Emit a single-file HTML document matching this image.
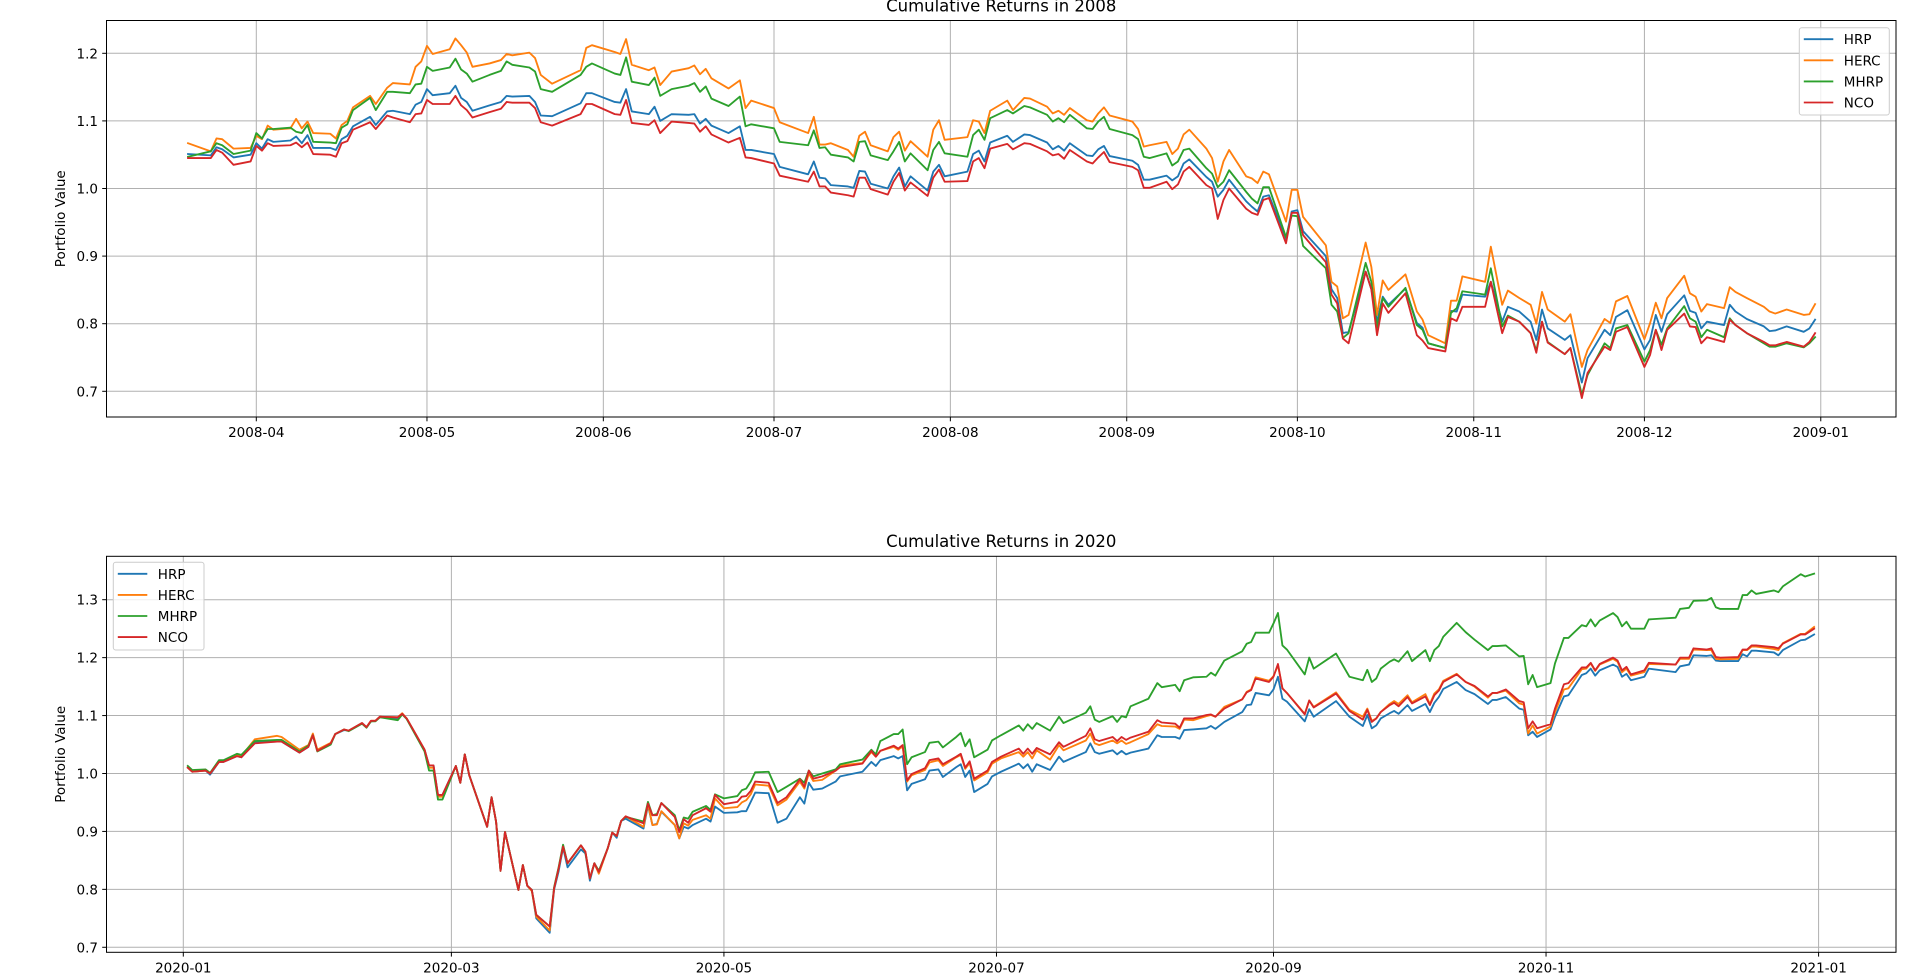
<!DOCTYPE html>
<html><head><meta charset="utf-8"><title>Cumulative Returns</title>
<style>
html,body{margin:0;padding:0;background:#fff;}
svg{display:block;font-family:"DejaVu Sans","Liberation Sans",sans-serif;}
</style></head>
<body>
<svg id="fig" width="1920" height="973" viewBox="0 0 1920 973" xmlns="http://www.w3.org/2000/svg">
<rect x="0" y="0" width="1920" height="973" fill="#fff"/>
<g id="chart1"></g>
<g id="chart2"></g>
</svg>
<script>
// ===== 2008 data (day of year, 2008-01-01 = 0) =====
const days2008 = [79,83,84,85,87,90,91,92,93,94,97,98,99,100,101,104,105,106,107,108,111,112,114,115,118,119,120,121,122,125,126,127,128,129,132,134,135,136,139,140,141,143,148,149,150,154,155,156,157,160,161,162,164,167,168,169,170,171,174,176,177,178,182,183,188,189,190,191,192,195,196,197,198,199,202,203,204,205,206,209,210,211,212,216,217,218,219,220,223,224,226,227,230,231,232,233,234,237,238,239,240,241,245,246,247,248,251,252,253,254,255,258,259,260,261,262,265,266,267,268,269,272,273,274,275,279,280,281,282,283,286,287,288,289,290,293,295,296,297,300,301,302,303,307,308,310,311,313,315,316,317,318,321,322,324,325,328,329,330,332,335,336,337,338,339,342,343,344,345,346,349,350,351,353,356,357,358,360,363,364,365];
const hrp2008 = [1.051,1.049,1.061,1.058,1.046,1.050,1.067,1.059,1.073,1.069,1.071,1.077,1.067,1.079,1.060,1.060,1.057,1.073,1.078,1.092,1.106,1.094,1.114,1.115,1.110,1.124,1.128,1.147,1.138,1.141,1.152,1.134,1.128,1.115,1.123,1.128,1.137,1.136,1.137,1.128,1.108,1.107,1.126,1.141,1.141,1.128,1.127,1.147,1.114,1.110,1.121,1.100,1.110,1.109,1.110,1.096,1.103,1.093,1.082,1.092,1.057,1.057,1.051,1.032,1.021,1.040,1.016,1.015,1.005,1.003,1.001,1.026,1.025,1.007,1.000,1.018,1.031,1.003,1.018,0.997,1.025,1.035,1.018,1.025,1.051,1.056,1.040,1.068,1.078,1.069,1.080,1.079,1.068,1.058,1.063,1.056,1.067,1.049,1.048,1.058,1.063,1.048,1.041,1.035,1.013,1.013,1.019,1.012,1.018,1.037,1.043,1.017,1.010,0.988,0.998,1.013,0.981,0.973,0.966,0.988,0.990,0.926,0.966,0.968,0.937,0.900,0.851,0.838,0.786,0.788,0.877,0.851,0.803,0.840,0.828,0.852,0.801,0.794,0.771,0.764,0.819,0.818,0.843,0.840,0.862,0.803,0.825,0.818,0.803,0.776,0.821,0.793,0.776,0.783,0.713,0.749,0.791,0.783,0.810,0.820,0.762,0.776,0.813,0.788,0.814,0.842,0.819,0.816,0.793,0.803,0.798,0.828,0.818,0.807,0.796,0.789,0.790,0.796,0.788,0.793,0.806];
const herc2008 = [1.067,1.055,1.074,1.073,1.059,1.060,1.078,1.073,1.093,1.087,1.089,1.103,1.089,1.099,1.082,1.081,1.074,1.094,1.100,1.120,1.137,1.125,1.149,1.156,1.154,1.180,1.188,1.211,1.199,1.206,1.222,1.212,1.201,1.180,1.185,1.190,1.199,1.197,1.201,1.193,1.168,1.155,1.175,1.208,1.212,1.202,1.199,1.221,1.183,1.175,1.179,1.153,1.173,1.178,1.182,1.169,1.177,1.163,1.148,1.160,1.119,1.130,1.119,1.098,1.082,1.106,1.065,1.065,1.067,1.057,1.047,1.078,1.084,1.064,1.055,1.076,1.084,1.056,1.070,1.047,1.087,1.101,1.072,1.076,1.101,1.099,1.082,1.115,1.130,1.116,1.134,1.133,1.121,1.111,1.115,1.109,1.119,1.101,1.099,1.111,1.120,1.108,1.099,1.088,1.062,1.064,1.069,1.051,1.059,1.080,1.087,1.059,1.045,1.010,1.040,1.057,1.018,1.015,1.008,1.025,1.021,0.951,0.998,0.998,0.958,0.916,0.862,0.855,0.808,0.813,0.920,0.884,0.813,0.864,0.850,0.873,0.818,0.806,0.783,0.771,0.834,0.834,0.870,0.862,0.914,0.828,0.849,0.838,0.828,0.800,0.847,0.821,0.803,0.814,0.736,0.761,0.807,0.801,0.833,0.841,0.777,0.801,0.831,0.808,0.838,0.871,0.845,0.840,0.818,0.829,0.823,0.854,0.847,0.838,0.825,0.818,0.815,0.821,0.813,0.814,0.829];
const mhrp2008 = [1.047,1.055,1.067,1.064,1.051,1.056,1.082,1.074,1.088,1.088,1.090,1.084,1.082,1.094,1.069,1.068,1.067,1.090,1.095,1.116,1.134,1.116,1.143,1.143,1.141,1.154,1.155,1.180,1.174,1.179,1.192,1.176,1.170,1.158,1.168,1.174,1.188,1.183,1.179,1.173,1.147,1.143,1.168,1.180,1.185,1.170,1.168,1.194,1.158,1.153,1.164,1.137,1.147,1.152,1.156,1.143,1.151,1.133,1.122,1.136,1.092,1.095,1.089,1.069,1.064,1.086,1.060,1.061,1.050,1.046,1.040,1.069,1.070,1.049,1.042,1.055,1.069,1.040,1.052,1.027,1.057,1.069,1.052,1.047,1.079,1.087,1.072,1.104,1.116,1.111,1.122,1.120,1.109,1.099,1.104,1.098,1.109,1.089,1.088,1.099,1.106,1.088,1.079,1.073,1.047,1.045,1.052,1.034,1.040,1.057,1.059,1.030,1.022,1.002,1.010,1.027,0.995,0.985,0.978,1.002,1.002,0.928,0.960,0.959,0.915,0.882,0.828,0.818,0.779,0.786,0.890,0.862,0.794,0.838,0.825,0.853,0.798,0.791,0.771,0.764,0.816,0.823,0.848,0.843,0.882,0.796,0.812,0.803,0.786,0.760,0.803,0.773,0.755,0.764,0.695,0.724,0.771,0.764,0.793,0.798,0.744,0.761,0.791,0.769,0.793,0.826,0.808,0.803,0.780,0.791,0.780,0.808,0.798,0.786,0.771,0.766,0.766,0.771,0.765,0.771,0.780];
const nco2008 = [1.045,1.045,1.057,1.053,1.035,1.040,1.063,1.056,1.067,1.063,1.064,1.068,1.061,1.068,1.051,1.050,1.047,1.067,1.070,1.087,1.098,1.088,1.108,1.105,1.098,1.110,1.111,1.131,1.125,1.125,1.137,1.123,1.116,1.105,1.113,1.118,1.128,1.127,1.127,1.119,1.098,1.093,1.110,1.125,1.125,1.110,1.109,1.131,1.097,1.094,1.101,1.082,1.099,1.097,1.096,1.084,1.092,1.080,1.068,1.075,1.046,1.045,1.037,1.019,1.010,1.025,1.003,1.003,0.994,0.990,0.988,1.016,1.016,0.999,0.991,1.010,1.023,0.997,1.009,0.989,1.016,1.028,1.010,1.011,1.040,1.045,1.030,1.059,1.066,1.058,1.067,1.066,1.055,1.049,1.051,1.044,1.057,1.040,1.037,1.046,1.054,1.039,1.032,1.027,1.001,1.001,1.010,0.999,1.006,1.025,1.032,1.005,1.000,0.955,0.983,1.000,0.970,0.964,0.961,0.983,0.986,0.919,0.964,0.964,0.931,0.891,0.843,0.830,0.778,0.771,0.877,0.851,0.783,0.830,0.816,0.845,0.783,0.775,0.764,0.759,0.808,0.804,0.825,0.825,0.862,0.786,0.810,0.803,0.786,0.757,0.803,0.772,0.755,0.764,0.690,0.727,0.766,0.761,0.788,0.795,0.736,0.754,0.791,0.761,0.791,0.815,0.796,0.795,0.771,0.780,0.773,0.806,0.798,0.786,0.773,0.768,0.768,0.773,0.766,0.773,0.786];
const xTickDays2008 = [91,121,152,182,213,244,274,305,335,366];
const xTickLabels2008 = ["2008-04","2008-05","2008-06","2008-07","2008-08","2008-09","2008-10","2008-11","2008-12","2009-01"];
const yTicks2008 = [0.7,0.8,0.9,1.0,1.1,1.2];

// ===== 2020 data (day of year, 2020-01-01 = 0) =====
const days2020 = [1,2,5,6,8,9,12,13,16,21,22,26,28,29,30,33,34,36,37,40,41,42,43,44,48,49,50,54,55,56,57,58,61,62,63,64,68,69,70,71,72,75,76,77,78,79,82,83,84,85,86,89,90,91,92,93,95,96,97,98,99,103,104,105,106,107,110,111,112,113,114,117,118,119,121,124,125,126,127,128,131,133,135,138,139,140,141,143,146,147,152,154,155,156,159,160,161,162,163,166,167,169,170,173,174,175,176,177,180,181,183,187,188,189,190,191,194,196,197,202,203,204,205,208,209,210,211,212,216,218,219,222,223,224,226,229,230,231,233,237,238,239,240,243,244,245,246,247,251,252,253,258,261,264,265,266,267,268,270,271,272,274,275,278,279,280,281,282,285,287,289,292,293,294,296,299,300,301,302,303,306,307,309,310,313,314,315,316,317,320,321,322,323,324,327,328,334,335,337,338,341,342,343,344,348,349,350,351,352,356,357,358,362,363,365];
const hrp2020 = [1.010,1.003,1.005,0.998,1.020,1.020,1.030,1.028,1.054,1.055,1.055,1.036,1.046,1.066,1.039,1.052,1.068,1.075,1.074,1.087,1.080,1.090,1.091,1.098,1.095,1.103,1.095,1.041,1.014,1.014,0.963,0.963,1.013,0.984,1.033,0.997,0.908,0.959,0.917,0.832,0.899,0.799,0.842,0.806,0.799,0.750,0.725,0.800,0.831,0.872,0.838,0.869,0.862,0.815,0.845,0.828,0.871,0.898,0.889,0.918,0.922,0.905,0.945,0.911,0.913,0.934,0.911,0.888,0.908,0.905,0.911,0.922,0.917,0.943,0.932,0.933,0.935,0.935,0.951,0.967,0.966,0.915,0.922,0.959,0.948,0.984,0.972,0.974,0.986,0.995,1.003,1.020,1.013,1.023,1.030,1.026,1.030,0.971,0.982,0.990,1.005,1.007,0.994,1.011,1.016,0.994,1.005,0.968,0.982,0.995,1.003,1.017,1.009,1.016,1.003,1.016,1.006,1.029,1.020,1.037,1.052,1.037,1.034,1.040,1.033,1.039,1.033,1.036,1.043,1.066,1.063,1.063,1.060,1.075,1.076,1.078,1.082,1.077,1.089,1.106,1.118,1.119,1.139,1.135,1.145,1.167,1.129,1.124,1.090,1.111,1.098,1.125,1.098,1.082,1.101,1.078,1.083,1.095,1.104,1.108,1.103,1.118,1.108,1.120,1.106,1.122,1.132,1.146,1.158,1.144,1.137,1.120,1.127,1.127,1.132,1.112,1.110,1.066,1.072,1.063,1.076,1.098,1.133,1.135,1.170,1.173,1.181,1.169,1.178,1.188,1.184,1.167,1.172,1.161,1.167,1.181,1.175,1.185,1.188,1.204,1.203,1.204,1.195,1.194,1.194,1.206,1.202,1.212,1.212,1.209,1.204,1.213,1.230,1.231,1.240];
const herc2020 = [1.010,1.003,1.005,1.000,1.020,1.021,1.032,1.030,1.059,1.065,1.063,1.041,1.049,1.069,1.041,1.053,1.068,1.076,1.074,1.087,1.080,1.091,1.091,1.098,1.097,1.104,1.095,1.041,1.010,1.010,0.960,0.960,1.013,0.984,1.033,0.997,0.908,0.959,0.917,0.832,0.899,0.799,0.842,0.806,0.797,0.753,0.729,0.802,0.836,0.874,0.845,0.876,0.864,0.819,0.845,0.827,0.871,0.898,0.892,0.918,0.926,0.908,0.948,0.911,0.912,0.935,0.911,0.888,0.914,0.910,0.920,0.928,0.922,0.957,0.940,0.942,0.950,0.954,0.964,0.981,0.979,0.945,0.955,0.986,0.974,1.000,0.987,0.989,1.005,1.014,1.018,1.037,1.029,1.039,1.046,1.041,1.047,0.986,0.997,1.006,1.019,1.023,1.013,1.028,1.032,1.008,1.018,0.988,1.002,1.017,1.026,1.037,1.029,1.037,1.026,1.040,1.024,1.049,1.040,1.057,1.069,1.052,1.049,1.057,1.052,1.057,1.051,1.054,1.068,1.085,1.082,1.081,1.077,1.093,1.092,1.099,1.101,1.098,1.115,1.128,1.141,1.145,1.166,1.160,1.168,1.187,1.147,1.139,1.103,1.126,1.115,1.140,1.110,1.098,1.112,1.091,1.095,1.106,1.120,1.125,1.120,1.135,1.123,1.137,1.120,1.138,1.145,1.160,1.172,1.158,1.150,1.131,1.139,1.139,1.143,1.121,1.119,1.069,1.083,1.069,1.081,1.106,1.145,1.147,1.180,1.181,1.190,1.177,1.188,1.198,1.193,1.175,1.181,1.169,1.175,1.189,1.188,1.198,1.198,1.214,1.213,1.213,1.198,1.197,1.198,1.213,1.213,1.219,1.219,1.215,1.213,1.225,1.241,1.241,1.253];
const mhrp2020 = [1.013,1.006,1.007,1.001,1.023,1.023,1.034,1.032,1.056,1.058,1.058,1.038,1.048,1.066,1.038,1.050,1.068,1.076,1.073,1.086,1.079,1.090,1.090,1.097,1.092,1.102,1.094,1.038,1.005,1.005,0.955,0.955,1.013,0.984,1.033,0.997,0.908,0.959,0.917,0.832,0.899,0.799,0.842,0.806,0.799,0.756,0.736,0.804,0.838,0.877,0.845,0.876,0.864,0.819,0.845,0.832,0.871,0.898,0.892,0.918,0.925,0.917,0.951,0.928,0.930,0.949,0.928,0.902,0.924,0.922,0.934,0.944,0.937,0.964,0.957,0.961,0.971,0.974,0.986,1.002,1.003,0.968,0.977,0.991,0.984,1.005,0.995,1.000,1.007,1.016,1.024,1.041,1.033,1.056,1.068,1.068,1.076,1.016,1.028,1.037,1.053,1.055,1.045,1.063,1.070,1.047,1.059,1.028,1.041,1.057,1.066,1.083,1.074,1.085,1.077,1.087,1.074,1.098,1.087,1.105,1.116,1.093,1.089,1.099,1.089,1.099,1.097,1.116,1.129,1.156,1.149,1.153,1.142,1.161,1.166,1.167,1.174,1.169,1.195,1.211,1.224,1.227,1.243,1.243,1.259,1.277,1.221,1.214,1.171,1.200,1.181,1.207,1.167,1.161,1.179,1.158,1.164,1.181,1.193,1.197,1.193,1.211,1.194,1.213,1.194,1.213,1.220,1.236,1.260,1.244,1.231,1.213,1.220,1.220,1.221,1.202,1.203,1.154,1.170,1.149,1.156,1.190,1.234,1.234,1.256,1.254,1.266,1.254,1.264,1.277,1.270,1.254,1.262,1.250,1.250,1.266,1.269,1.284,1.286,1.298,1.299,1.303,1.287,1.284,1.284,1.308,1.308,1.316,1.310,1.316,1.313,1.323,1.344,1.340,1.345];
const nco2020 = [1.010,1.003,1.005,1.000,1.020,1.020,1.030,1.028,1.052,1.055,1.055,1.036,1.046,1.066,1.039,1.052,1.068,1.076,1.074,1.087,1.080,1.091,1.091,1.098,1.097,1.103,1.095,1.041,1.014,1.014,0.963,0.963,1.013,0.984,1.033,0.997,0.908,0.959,0.917,0.832,0.899,0.799,0.842,0.806,0.799,0.756,0.736,0.802,0.836,0.874,0.845,0.876,0.865,0.819,0.845,0.830,0.871,0.898,0.892,0.918,0.926,0.914,0.948,0.928,0.928,0.949,0.925,0.899,0.921,0.915,0.928,0.940,0.934,0.963,0.947,0.951,0.960,0.961,0.970,0.986,0.984,0.949,0.959,0.990,0.977,1.005,0.991,0.995,1.005,1.011,1.017,1.039,1.029,1.039,1.048,1.043,1.049,0.988,0.999,1.009,1.023,1.026,1.016,1.029,1.034,1.010,1.021,0.991,1.005,1.020,1.029,1.043,1.034,1.043,1.034,1.044,1.033,1.054,1.046,1.065,1.078,1.059,1.056,1.063,1.056,1.063,1.058,1.062,1.072,1.092,1.088,1.086,1.079,1.095,1.095,1.101,1.102,1.098,1.112,1.128,1.140,1.144,1.164,1.158,1.167,1.189,1.147,1.139,1.102,1.126,1.114,1.138,1.108,1.093,1.110,1.089,1.095,1.106,1.118,1.122,1.116,1.132,1.121,1.133,1.118,1.135,1.143,1.158,1.171,1.158,1.151,1.133,1.139,1.139,1.145,1.125,1.123,1.078,1.090,1.078,1.085,1.112,1.154,1.156,1.183,1.183,1.191,1.178,1.189,1.200,1.195,1.178,1.184,1.171,1.178,1.191,1.188,1.200,1.200,1.216,1.214,1.216,1.201,1.200,1.201,1.214,1.214,1.221,1.221,1.218,1.216,1.224,1.240,1.240,1.250];
const xTickDays2020 = [0,60,121,182,244,305,366];
const xTickLabels2020 = ["2020-01","2020-03","2020-05","2020-07","2020-09","2020-11","2021-01"];
const yTicks2020 = [0.7,0.8,0.9,1.0,1.1,1.2,1.3];

const seriesNames = ["HRP","HERC","MHRP","NCO"];
const seriesColors = ["#1f77b4","#ff7f0e","#2ca02c","#d62728"];

const NS = "http://www.w3.org/2000/svg";
function mk(tag, attrs, parent) {
  const el = document.createElementNS(NS, tag);
  for (const k in attrs) el.setAttribute(k, attrs[k]);
  parent.appendChild(el);
  return el;
}

function drawChart(g, cfg) {
  const L = 106.5, R = 1896;
  const T = cfg.top, B = cfg.bottom;
  const xs = cfg.xScale, ys = cfg.yScale;
  // gridlines
  cfg.yTicks.forEach(v => {
    const y = ys(v);
    const gl = mk("line", {x1:L, x2:R, y1:y, y2:y, stroke:"#b0b0b0", "stroke-width":1}, g);
    
    
    const tk = mk("line", {x1:L-4.3, x2:L, y1:y, y2:y, stroke:"#000", "stroke-width":1}, g);
    
    
    const tl = mk("text", {x:L-8.5, y:y+5, "text-anchor":"end", "font-size":"13.5px", fill:"#000"}, g);
    tl.textContent = v.toFixed(1);
    
    
  });
  cfg.xTickDays.forEach((d, i) => {
    const x = xs(d);
    const gl = mk("line", {x1:x, x2:x, y1:T, y2:B, stroke:"#b0b0b0", "stroke-width":1}, g);
    
    
    const tk = mk("line", {x1:x, x2:x, y1:B, y2:B+4.3, stroke:"#000", "stroke-width":1}, g);
    
    
    const tl = mk("text", {x:x, y:B+20, "text-anchor":"middle", "font-size":"13.5px", fill:"#000"}, g);
    tl.textContent = cfg.xTickLabels[i];
    
    
  });
  // series
  cfg.series.forEach((vals, si) => {
    const pts = cfg.days.map((d, i) => xs(d).toFixed(2) + "," + ys(vals[i]).toFixed(2)).join(" ");
    const pl = mk("polyline", {points:pts, fill:"none", stroke:seriesColors[si], "stroke-width":1.85, "stroke-linejoin":"round", "stroke-linecap":"square"}, g);
    
    
  });
  // frame
  const fr = mk("rect", {x:L, y:T, width:R-L, height:B-T, fill:"none", stroke:"#000", "stroke-width":1}, g);
  
  
  // title
  const tt = mk("text", {x:(L+R)/2, y:cfg.titleY, "text-anchor":"middle", "font-size":"16.5px", fill:"#000"}, g);
  tt.textContent = cfg.title;
  
  
  // y label
  const cy = (T + B) / 2;
  const yl = mk("text", {x:65, y:cy, "text-anchor":"middle", "font-size":"13.5px", fill:"#000", transform:"rotate(-90 65 " + cy + ")"}, g);
  yl.textContent = "Portfolio Value";
  
  
  // legend
  const lg = mk("g", {}, g);
  
  
  const lb = cfg.legend;
  const box = mk("rect", {x:lb.x, y:lb.y, width:lb.w, height:lb.h, rx:2.5, fill:"#fff", "fill-opacity":0.8, stroke:"#cccccc", "stroke-width":1}, lg);
  
  
  seriesNames.forEach((n, si) => {
    const yy = lb.y + 11.5 + si * 21.1;
    const ln = mk("line", {x1:lb.x+4.5, x2:lb.x+34, y1:yy, y2:yy, stroke:seriesColors[si], "stroke-width":1.85}, lg);
    
    
    const tx = mk("text", {x:lb.x+44.5, y:yy+5, "font-size":"13.5px", fill:"#000"}, lg);
    tx.textContent = n;
    
    
  });
}

drawChart(document.getElementById("chart1"), {
  top:20.5, bottom:417,
  xScale: d => 256.3 + (d - 91) * 5.689,
  yScale: v => 53.3 + (1.2 - v) * 676,
  yTicks: yTicks2008, xTickDays: xTickDays2008, xTickLabels: xTickLabels2008,
  days: days2008, series: [hrp2008, herc2008, mhrp2008, nco2008],
  title: "Cumulative Returns in 2008", titleY: 11.5,
  legend: {x:1799.3, y:27.7, w:90, h:87.3}
});
drawChart(document.getElementById("chart2"), {
  top:556.3, bottom:952.3,
  xScale: d => 183.3 + d * 4.468,
  yScale: v => 599.7 + (1.3 - v) * 579.3,
  yTicks: yTicks2020, xTickDays: xTickDays2020, xTickLabels: xTickLabels2020,
  days: days2020, series: [hrp2020, herc2020, mhrp2020, nco2020],
  title: "Cumulative Returns in 2020", titleY: 547,
  legend: {x:113.3, y:562.3, w:90.7, h:87.7}
});
</script>
</body></html>
